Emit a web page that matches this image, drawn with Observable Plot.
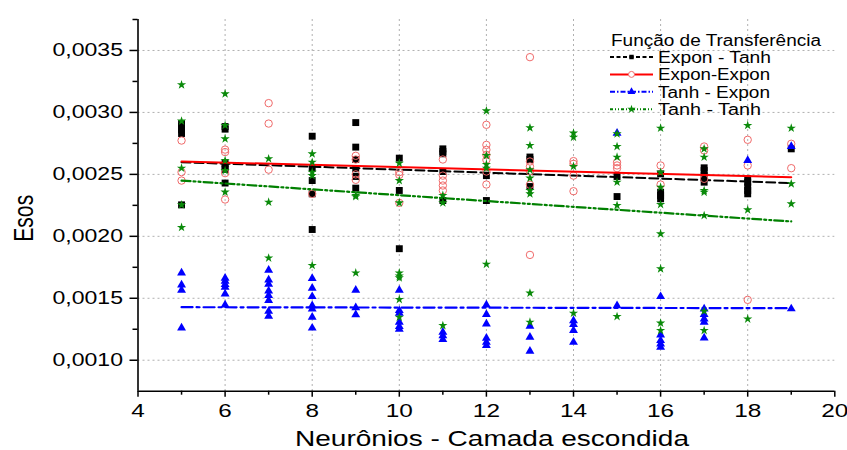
<!DOCTYPE html>
<html><head><meta charset="utf-8">
<script src="https://cdn.jsdelivr.net/npm/d3@7"></script>
<script src="https://cdn.jsdelivr.net/npm/@observablehq/plot@0.6"></script>
<style>body{margin:0;background:#fff;} #chart{width:847px;height:450px;}</style>
</head><body><div id="chart"></div>
<script>
// ---- data ----
const seriesNames = ["Expon - Tanh", "Expon-Expon", "Tanh - Expon", "Tanh - Tanh"];
const legendTitle = "Função de Transferência";
const xTitle = "Neurônios - Camada escondida";
const yTitle = "Esos";

const exponTanhX = [5,5,5,5,5, 6,6,6,6,6,6, 8,8,8,8,8, 9,9,9,9,9,9, 10,10,10, 11,11,11,11,11, 12,12, 13,13,13, 15,15, 16,16,16,16, 17,17,17,17, 18,18,18,18,18, 19];
const exponTanhY = [0.00291,0.002885,0.00286,0.00283,0.002254, 0.002886,0.002865,0.00259,0.00256,0.00254,0.00243, 0.002808,0.00255,0.00245,0.002343,0.002055, 0.002918,0.00272,0.00262,0.002545,0.002483,0.002389, 0.002631,0.00237,0.0019, 0.002706,0.002685,0.002666,0.002523,0.002289, 0.00249,0.002289, 0.00264,0.00262,0.002402, 0.002483,0.002321, 0.002504,0.002356,0.00233,0.002303, 0.002553,0.002531,0.00249,0.002437, 0.002464,0.002437,0.0024,0.00237,0.002343, 0.002706];

const exponExponX = [5,5,5, 6,6,6,6, 7,7,7, 8, 9,9,9,9, 10,10,10, 11,11,11,11,11, 12,12,12,12,12,12,12, 13,13,13,13,13,13, 14,14,14,14, 15,15,15, 16,16, 17,17,17, 18,18,18, 19,19];
const exponExponY = [0.002773,0.002518,0.00245, 0.0027,0.00268,0.00251,0.002297, 0.003075,0.00291,0.002538, 0.002343, 0.00265,0.00262,0.0025,0.002456, 0.002518,0.002496,0.00227, 0.00262,0.00249,0.00245,0.00241,0.00237, 0.0029,0.002738,0.002698,0.002658,0.002617,0.002523,0.002418, 0.003446,0.002604,0.002564,0.002523,0.002416,0.00185, 0.002607,0.002585,0.00249,0.002364, 0.002598,0.002572,0.00255, 0.002572,0.002418, 0.002725,0.002693,0.002464, 0.002779,0.002572,0.001487, 0.002747,0.00255];

const tanhExponX = [5,5,5,5, 6,6,6,6,6,6, 7,7,7,7,7,7,7,7, 8,8,8,8,8,8,8, 9,9,9, 10,10,10,10,10,10, 11,11,11, 12,12,12,12,12,12, 13,13,13, 14,14,14,14, 15,15, 16,16,16,16,16, 17,17,17,17,17, 18, 19,19];
const tanhExponY = [0.001705,0.001608,0.001565,0.001261, 0.001662,0.001638,0.001611,0.001589,0.001536,0.001447, 0.001727,0.001649,0.001614,0.00156,0.001522,0.001482,0.001395,0.001355, 0.00166,0.001581,0.001514,0.001441,0.001414,0.001347,0.00126, 0.001565,0.001424,0.001368, 0.001565,0.001401,0.00138,0.001307,0.001272,0.00125, 0.001226,0.001199,0.001167, 0.001447,0.001369,0.001293,0.001178,0.001145,0.001119, 0.001275,0.001186,0.001073, 0.00132,0.001288,0.00124,0.001145, 0.002833,0.001441, 0.001514,0.001205,0.001159,0.001132,0.001105, 0.001414,0.001369,0.001334,0.001307,0.00118, 0.002612, 0.002725,0.001415];

const tanhTanhX = [5,5,5,5,5, 6,6,6,6,6,6, 7,7,7, 8,8,8,8,8, 9,9,9, 10,10,10,10,10,10,10,10, 11,11,11, 12,12,12,12,12, 13,13,13,13,13,13,13,13, 14,14,14,14, 15,15,15,15,15,15, 16,16,16,16,16,16,16,16, 17,17,17,17,17,17,17, 18,18,18, 19,19,19];
const tanhTanhY = [0.003223,0.00293,0.00255,0.002254,0.002072, 0.00315,0.002895,0.002787,0.002612,0.002531,0.002357, 0.002626,0.002276,0.001825, 0.002666,0.002598,0.002518,0.00249,0.001765, 0.00233,0.00232,0.001705, 0.00259,0.00245,0.00227,0.001705,0.00168,0.001665,0.00149,0.001347, 0.00233,0.00227,0.00128, 0.003013,0.002652,0.00258,0.00255,0.001775, 0.002876,0.002733,0.002537,0.00247,0.00237,0.002343,0.001542,0.001307, 0.002833,0.0028,0.002564,0.00138, 0.002827,0.002725,0.002639,0.002437,0.002249,0.001353, 0.002873,0.002518,0.002397,0.002257,0.00202,0.001738,0.0013,0.00124, 0.002706,0.002639,0.00237,0.002356,0.002168,0.001396,0.00124, 0.002895,0.002214,0.001333, 0.002873,0.002424,0.002262];

// linear fit lines (values at the ends)
const fitX = [5, 19];
const fitExponTanh = [0.002598, 0.002430];
const fitExponExpon = [0.002604, 0.002477];
const fitTanhExpon = [0.001428, 0.001420];
const fitTanhTanh = [0.002450, 0.002120];

const xMajor = [4, 6, 8, 10, 12, 14, 16, 18, 20];
const xMinor = [5, 7, 9, 11, 13, 15, 17, 19];
const xGrid = [6, 8, 10, 12, 14, 16, 18];
const yMajor = [0.0010, 0.0015, 0.0020, 0.0025, 0.0030, 0.0035];
const yMinor = [0.00125, 0.00175, 0.00225, 0.00275, 0.00325, 0.00375];

// ---- build ----
const pts = (xs, ys) => xs.map((x, i) => ({x, y: ys[i]}));
const fit = ys => fitX.map((x, i) => ({x, y: ys[i]}));
const fmt = d => d.toFixed(4).replace(".", ",");
const FONT = "'Liberation Sans', Arial, Helvetica, sans-serif";
const gridStyle = {stroke: "#b0b0b0", strokeOpacity: 1, strokeDasharray: "2,3", strokeWidth: 1};

const styles = [
  {color: "#000000", dash: "9,4", lg: "4,2.5", symbol: "square", fill: "#000000", stroke: "none", r: 3.9, w: 2},
  {color: "#ff0000", dash: null, lg: null, symbol: "circle", fill: "none", stroke: "#f06a6a", r: 3.7, w: 2},
  {color: "#0000ff", dash: "11,4,3,4", lg: "5,2,1.5,2", symbol: "triangle", fill: "#0000ff", stroke: "none", r: 3.3, w: 2.2},
  {color: "#008000", dash: "9,3,2,3,2,3", lg: "3,2,1,2,1,2", symbol: "star", fill: "#0a8a0a", stroke: "none", r: 2.9, w: 2.2}
];
const pointSets = [pts(exponTanhX, exponTanhY), pts(exponExponX, exponExponY), pts(tanhExponX, tanhExponY), pts(tanhTanhX, tanhTanhY)];
const fitSets = [fit(fitExponTanh), fit(fitExponExpon), fit(fitTanhExpon), fit(fitTanhTanh)];

const seriesMarks = [];
styles.forEach((s, i) => {
  seriesMarks.push(Plot.dot(pointSets[i], {x: "x", y: "y", symbol: s.symbol, r: s.r, fill: s.fill, stroke: s.stroke, strokeWidth: 1}));
  seriesMarks.push(Plot.line(fitSets[i], {x: "x", y: "y", stroke: s.color, strokeWidth: s.w, strokeDasharray: s.dash}));
});

const plot = Plot.plot({
  width: 847, height: 450,
  marginLeft: 137.5, marginRight: 12.7, marginTop: 19, marginBottom: 59.3,
  style: {fontFamily: FONT, background: "#fff", color: "#000", overflow: "visible"},
  x: {domain: [4, 20]},
  y: {domain: [0.00075, 0.00375]},
  marks: [
    Plot.gridX(xGrid, gridStyle),
    Plot.gridY(yMajor, gridStyle),
    ...seriesMarks,
    Plot.axisY(yMinor, {tickSize: 5, tickFormat: () => "", label: null, strokeWidth: 1.5}),
    Plot.axisY(yMajor, {tickSize: 8, tickPadding: 7, tickFormat: fmt, fontSize: 18, label: null, strokeWidth: 1.5}),
    Plot.axisX(xMinor, {tickSize: 4, tickFormat: () => "", label: null, strokeWidth: 1.5}),
    Plot.axisX(xMajor, {tickSize: 6, tickPadding: 6, fontSize: 19, label: null, strokeWidth: 1.5}),
    Plot.ruleX([4], {stroke: "#000", strokeWidth: 1.6}),
    Plot.ruleY([0.00075], {stroke: "#000", strokeWidth: 1.6})
  ]
});
document.getElementById("chart").append(plot);

const svg = d3.select(plot);
// the reference's lettering is horizontally stretched
const SX = 1.28;
svg.selectAll("text").each(function () {
  if (!this.textContent) return;
  const len = this.getComputedTextLength();
  this.setAttribute("textLength", (len * SX).toFixed(1));
  this.setAttribute("lengthAdjust", "spacingAndGlyphs");
});

// axis titles
const xt = svg.append("text").attr("x", 492).attr("y", 446).attr("text-anchor", "middle")
  .attr("font-size", 22).attr("font-family", FONT).attr("fill", "#000").text(xTitle);
xt.attr("textLength", 394).attr("lengthAdjust", "spacingAndGlyphs");
svg.append("text").attr("transform", "translate(33,218.3) rotate(-90)")
  .attr("text-anchor", "middle").attr("font-size", 27).attr("font-family", FONT).attr("fill", "#000")
  .attr("textLength", 47).attr("lengthAdjust", "spacingAndGlyphs").text(yTitle);

// legend (no frame, top right)
const lg = svg.append("g").attr("font-family", FONT).attr("fill", "#000").attr("text-anchor", "start");
lg.append("text").attr("x", 611).attr("y", 45.5).attr("font-size", 16).attr("text-anchor", "start")
  .attr("textLength", 210).attr("lengthAdjust", "spacingAndGlyphs").text(legendTitle);
const entryLen = [113, 112, 112, 103];
const d3sym = {square: d3.symbolSquare, circle: d3.symbolCircle, triangle: d3.symbolTriangle, star: d3.symbolStar};
const lgSize = {square: 20, circle: 28, triangle: 26, star: 22};
styles.forEach((s, i) => {
  const cy = 57 + i * 17.4;
  lg.append("line").attr("x1", 610).attr("x2", 653).attr("y1", cy).attr("y2", cy)
    .attr("stroke", s.color).attr("stroke-width", 2).attr("stroke-dasharray", s.lg);
  lg.append("path").attr("transform", `translate(631.5,${cy})`)
    .attr("d", d3.symbol(d3sym[s.symbol], lgSize[s.symbol])())
    .attr("fill", s.symbol === "circle" ? "#fff" : s.fill)
    .attr("stroke", s.symbol === "circle" ? s.stroke : "none");
  lg.append("text").attr("x", 658).attr("y", cy).attr("dy", "0.36em").attr("font-size", 16)
    .attr("text-anchor", "start").attr("textLength", entryLen[i]).attr("lengthAdjust", "spacingAndGlyphs")
    .text(seriesNames[i]);
});
</script>
</body></html>
